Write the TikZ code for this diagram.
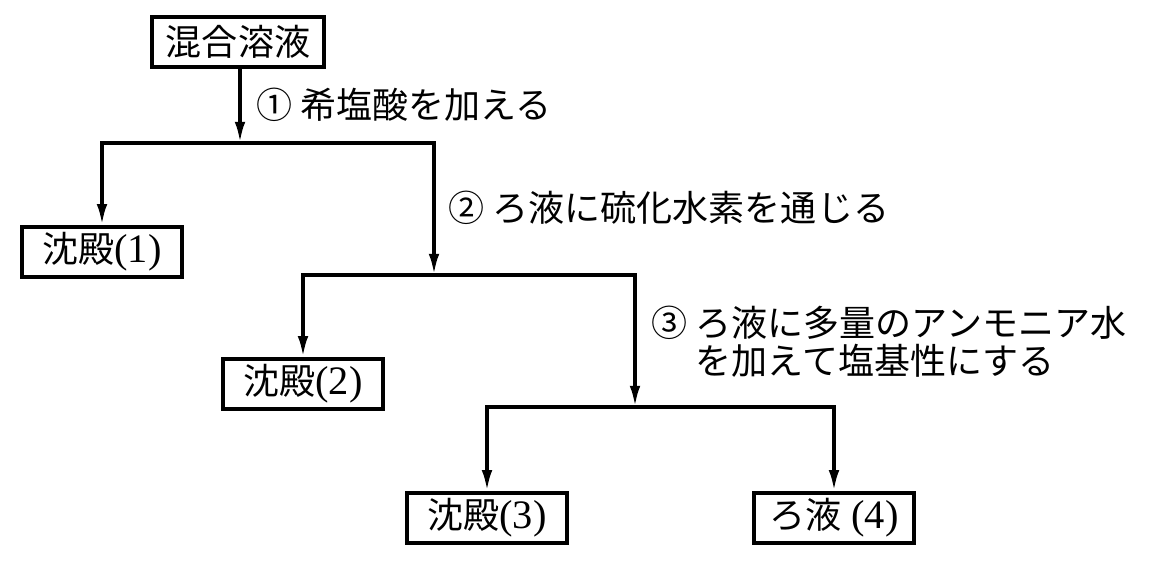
\documentclass[tikz,border=0pt]{standalone}
\usepackage{fontspec}
\usetikzlibrary{arrows.meta}
\newfontfamily\jp{Noto Sans CJK JP}
\newfontfamily\num{Liberation Serif}

\begin{document}
\begin{tikzpicture}[x=0.02cm, y=-0.02cm, line width=2pt, >={Latex[length=12pt,width=6pt]}]

\useasboundingbox (0,0) rectangle (1152,564);
\tikzstyle{every node}=[font=\fontsize{20.5}{22}\selectfont, inner sep=0pt]
\tikzstyle{box}=[draw, line width=2pt, inner xsep=8pt, minimum width=3.2cm, minimum height=1cm]

\draw (238, 42)  node[box] (mix) {\jp 混合溶液}
      (102, 252) node[box] (ppt1) {{\jp 沈殿}{\num\fontsize{23}{24}\selectfont(1)}}
      (303, 384) node[box] (ppt2) {{\jp 沈殿}{\num\fontsize{23}{24}\selectfont(2)}}
      (487, 518) node[box] (ppt3) {{\jp 沈殿}{\num\fontsize{23}{24}\selectfont(3)}}
      (834, 518) node[box] (filt4) {{\jp ろ液}{\num\fontsize{23}{24}\selectfont\ (4)}};

\coordinate (j1) at (240, 143);
\coordinate (j2) at (434, 275);
\coordinate (j3) at (635, 407);

\draw[->] (mix.south -| j1) -- (j1);
\draw[->] (j1) -| (ppt1);
\draw[->] (j1) -| (j2);
\draw[->] (j2) -| (ppt2);
\draw[->] (j2) -| (j3);
\draw[->] (j3) -| (ppt3);
\draw[->] (j3) -| (filt4);

\node[anchor=west] (step1) at (255, 105) {\jp ① 希塩酸を加える};
\node[anchor=west] (step2) at (447, 208) {\jp ② ろ液に硫化水素を通じる};
\node[anchor=north west, align=left] (step3) at (650, 304)
  {\jp ③ ろ液に多量のアンモニア水\\\jp \phantom{③ }を加えて塩基性にする};

\end{tikzpicture}
\end{document}
